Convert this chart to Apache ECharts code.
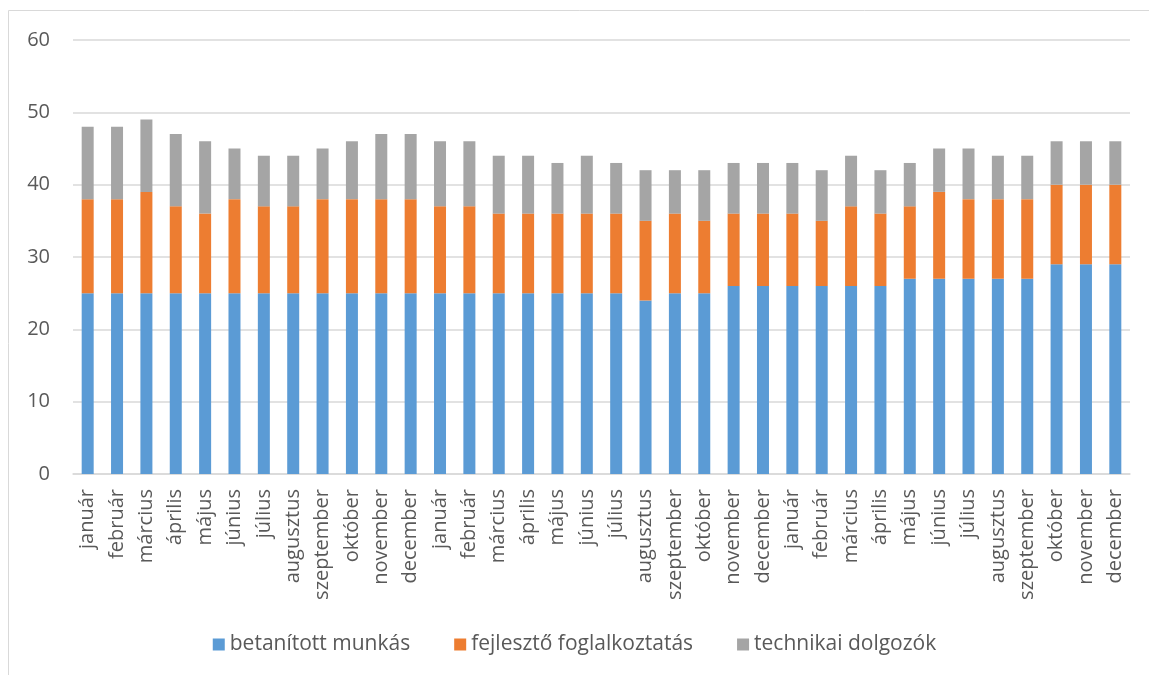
<!DOCTYPE html>
<html><head><meta charset="utf-8">
<script src="https://cdn.jsdelivr.net/npm/echarts@6/dist/echarts.min.js"></script>
<style>html,body{margin:0;padding:0;background:#fff}#c{width:1149px;height:675px}</style>
</head><body><div id="c"></div>
<script>
const categories = ['január','február','március','április','május','június','július','augusztus','szeptember','október','november','december',
'január','február','március','április','május','június','július','augusztus','szeptember','október','november','december',
'január','február','március','április','május','június','július','augusztus','szeptember','október','november','december'];
const betanitott = [25,25,25,25,25,25,25,25,25,25,25,25, 25,25,25,25,25,25,25,24,25,25,26,26, 26,26,26,26,27,27,27,27,27,29,29,29];
const fejleszto  = [13,13,14,12,11,13,12,12,13,13,13,13, 12,12,11,11,11,11,11,11,11,10,10,10, 10,9,11,10,10,12,11,11,11,11,11,11];
const technikai  = [10,10,10,10,10,7,7,7,7,8,9,9, 9,9,8,8,7,8,7,7,6,7,7,7, 7,7,7,6,6,6,7,6,6,6,6,6];
const seriesNames = ['betanított munkás','fejlesztő foglalkoztatás','technikai dolgozók'];
const yTicks = {min:0, max:60, interval:10};

const chart = echarts.init(document.getElementById('c'));
const font = 'Open Sans, Noto Sans, sans-serif';
const colors = ['#5B9BD5','#ED7D31','#A5A5A5'];
const datasets = [betanitott, fejleszto, technikai];
chart.setOption({
  animation:false,
  color: colors,
  graphic:[{type:'rect', shape:{x:8.5,y:10.5,width:1160,height:680}, style:{fill:'none', stroke:'#d9d9d9', lineWidth:1}}],
  grid:{left:73, right:19, top:40, bottom:201},
  legend:{bottom:15, left:'center', itemWidth:12, itemHeight:12, itemGap:44, icon:'rect',
    textStyle:{fontFamily:font, fontSize:21, color:'#595959'}, data:seriesNames},
  xAxis:{type:'category', data:categories,
    axisLine:{lineStyle:{color:'#d9d9d9', width:1.5}}, axisTick:{show:false},
    axisLabel:{rotate:90, interval:0, margin:15, fontFamily:font, fontSize:20, color:'#595959'}},
  yAxis:{type:'value', min:yTicks.min, max:yTicks.max, interval:yTicks.interval,
    axisLine:{show:false}, axisTick:{show:false},
    splitLine:{lineStyle:{color:'#d9d9d9', width:1.5}},
    axisLabel:{margin:23, fontFamily:font, fontSize:20, color:'#595959'}},
  series: seriesNames.map((n,i)=>({name:n, type:'bar', stack:'a', barWidth:12, data:datasets[i],
    itemStyle:{color:colors[i]}}))
});
</script></body></html>
